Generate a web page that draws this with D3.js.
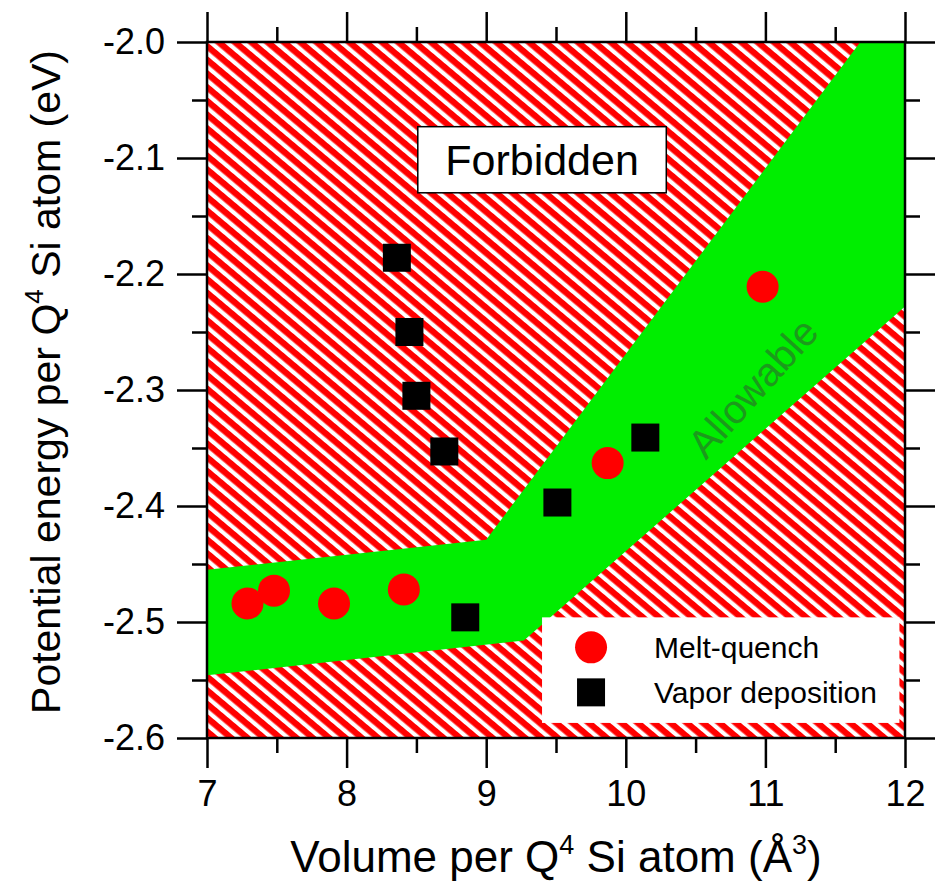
<!DOCTYPE html>
<html>
<head>
<meta charset="utf-8">
<script src="https://cdn.jsdelivr.net/npm/d3@7"></script>
<style>
  body { margin: 0; background: #fff; }
  text { font-family: "Liberation Sans", Arial, sans-serif; }
</style>
</head>
<body>
<svg id="chart"></svg>
<script>
// Data
const meltX = [7.29, 7.48, 7.91, 8.41, 9.87, 10.98];
const meltY = [-2.484, -2.473, -2.484, -2.472, -2.363, -2.211];
const vaporX = [8.36, 8.45, 8.50, 8.70, 8.85, 9.51, 10.14];
const vaporY = [-2.186, -2.250, -2.305, -2.353, -2.496, -2.397, -2.341];

// "Allowable" band outline
const bandX = [7, 9.0, 11.68, 12, 12, 9.27, 7];
const bandY = [-2.455, -2.429, -2.0, -2.0, -2.228, -2.516, -2.546];

const xMajor = [7, 8, 9, 10, 11, 12];
const xMinor = [7.5, 8.5, 9.5, 10.5, 11.5];
const yMajor = [-2.0, -2.1, -2.2, -2.3, -2.4, -2.5, -2.6];
const yMinor = [-2.05, -2.15, -2.25, -2.35, -2.45, -2.55];

const legendLabels = ["Melt-quench", "Vapor deposition"];

// Dimensions
const margin = { top: 42, right: 31, bottom: 154, left: 207 };
const width = 936 - margin.left - margin.right;
const height = 892 - margin.top - margin.bottom;

const svg = d3.select("#chart")
    .attr("width", 936)
    .attr("height", 892);

// hatch pattern for the forbidden region
const defs = svg.append("defs");
const hatch = defs.append("pattern")
    .attr("id", "hatch")
    .attr("patternUnits", "userSpaceOnUse")
    .attr("width", 20)
    .attr("height", 10.5)
    .attr("patternTransform", "rotate(40)");
hatch.append("rect").attr("width", 20).attr("height", 10.5).attr("fill", "#fff");
hatch.append("rect").attr("width", 20).attr("height", 6.3).attr("fill", "#ff0000");

defs.append("clipPath").attr("id", "plotclip")
    .append("rect").attr("width", width).attr("height", height);

const g = svg.append("g")
    .attr("transform", `translate(${margin.left},${margin.top})`);

// Scales
const x = d3.scaleLinear().domain([7, 12]).range([0, width]);
const y = d3.scaleLinear().domain([-2.6, -2.0]).range([height, 0]);

// Background hatch
g.append("rect")
    .attr("width", width)
    .attr("height", height)
    .attr("fill", "url(#hatch)");

// Allowable band
const band = bandX.map((d, i) => [x(d), y(bandY[i])]);
g.append("path")
    .attr("clip-path", "url(#plotclip)")
    .attr("d", d3.line()(band) + "Z")
    .attr("fill", "#00ee00");

g.append("text")
    .attr("transform", `translate(${x(10.91)},${y(-2.298)}) rotate(-48)`)
    .attr("text-anchor", "middle")
    .attr("dominant-baseline", "central")
    .style("font-size", "40px")
    .style("fill", "#1c9a1c")
    .text("Allowable");

// Forbidden label box
g.append("rect")
    .attr("x", x(8.51))
    .attr("y", y(-2.073))
    .attr("width", x(10.29) - x(8.51))
    .attr("height", y(-2.130) - y(-2.073))
    .attr("fill", "#fff")
    .attr("stroke", "#000")
    .attr("stroke-width", 1.5);
g.append("text")
    .attr("x", (x(8.51) + x(10.29)) / 2)
    .attr("y", y(-2.1015))
    .attr("text-anchor", "middle")
    .attr("dominant-baseline", "central")
    .style("font-size", "43px")
    .text("Forbidden");

// Legend box
const legend = g.append("g")
    .attr("transform", `translate(${x(9.40)},${y(-2.496)})`);
legend.append("rect")
    .attr("width", x(11.96) - x(9.40))
    .attr("height", y(-2.587) - y(-2.496))
    .attr("fill", "#fff");
legend.append("circle")
    .attr("cx", 49).attr("cy", 30).attr("r", 16)
    .attr("fill", "#ff0000");
legend.append("rect")
    .attr("x", 35).attr("y", 61).attr("width", 28).attr("height", 28)
    .attr("fill", "#000");
legend.selectAll(".lab")
    .data(legendLabels)
    .enter().append("text")
    .attr("class", "lab")
    .attr("x", 112)
    .attr("y", (d, i) => 30 + i * 45)
    .attr("dominant-baseline", "central")
    .style("font-size", "30px")
    .text(d => d);

// Points
g.selectAll(".melt")
    .data(meltX)
    .enter().append("circle")
    .attr("class", "melt")
    .attr("cx", d => x(d))
    .attr("cy", (d, i) => y(meltY[i]))
    .attr("r", 16)
    .attr("fill", "#ff0000");

g.selectAll(".vapor")
    .data(vaporX)
    .enter().append("rect")
    .attr("class", "vapor")
    .attr("x", d => x(d) - 14)
    .attr("y", (d, i) => y(vaporY[i]) - 14)
    .attr("width", 28)
    .attr("height", 28)
    .attr("fill", "#000");

// Axes: major and minor ticks on all four sides
function styleAxis(sel) {
    sel.select(".domain").remove();
    sel.selectAll("line").attr("stroke-width", 2.5);
    sel.selectAll("text").style("font-size", "36px").attr("fill", "#000");
}

g.append("g").attr("transform", `translate(0,${height})`)
    .call(d3.axisBottom(x).tickValues(xMajor).tickSize(30).tickPadding(12).tickFormat(d3.format("d")))
    .call(styleAxis);
g.append("g").attr("transform", `translate(0,${height})`)
    .call(d3.axisBottom(x).tickValues(xMinor).tickSize(15).tickFormat(""))
    .call(styleAxis);
g.append("g")
    .call(d3.axisTop(x).tickValues(xMajor).tickSize(30).tickFormat(""))
    .call(styleAxis);
g.append("g")
    .call(d3.axisTop(x).tickValues(xMinor).tickSize(15).tickFormat(""))
    .call(styleAxis);

g.append("g")
    .call(d3.axisLeft(y).tickValues(yMajor).tickSize(30).tickPadding(12).tickFormat(d => d.toFixed(1)))
    .call(styleAxis);
g.append("g")
    .call(d3.axisLeft(y).tickValues(yMinor).tickSize(15).tickFormat(""))
    .call(styleAxis);
g.append("g").attr("transform", `translate(${width},0)`)
    .call(d3.axisRight(y).tickValues(yMajor).tickSize(30).tickFormat(""))
    .call(styleAxis);
g.append("g").attr("transform", `translate(${width},0)`)
    .call(d3.axisRight(y).tickValues(yMinor).tickSize(15).tickFormat(""))
    .call(styleAxis);

// Frame
g.append("rect")
    .attr("width", width)
    .attr("height", height)
    .attr("fill", "none")
    .attr("stroke", "#000")
    .attr("stroke-width", 2.5);

// Axis titles
const xTitle = g.append("text")
    .attr("x", width / 2)
    .attr("y", height + 134)
    .attr("text-anchor", "middle")
    .style("font-size", "44px");
xTitle.append("tspan").text("Volume per Q");
xTitle.append("tspan").attr("dy", -18).style("font-size", "27px").text("4");
xTitle.append("tspan").attr("dy", 18).text(" Si atom (Å");
xTitle.append("tspan").attr("dy", -18).style("font-size", "27px").text("3");
xTitle.append("tspan").attr("dy", 18).text(")");

const yTitle = g.append("text")
    .attr("transform", `translate(${-margin.left + 60},${height / 2 - 8}) rotate(-90)`)
    .attr("text-anchor", "middle")
    .style("font-size", "41px");
yTitle.append("tspan").text("Potential energy per Q");
yTitle.append("tspan").attr("dy", -17).style("font-size", "26px").text("4");
yTitle.append("tspan").attr("dy", 17).text(" Si atom (eV)");
</script>
</body>
</html>
